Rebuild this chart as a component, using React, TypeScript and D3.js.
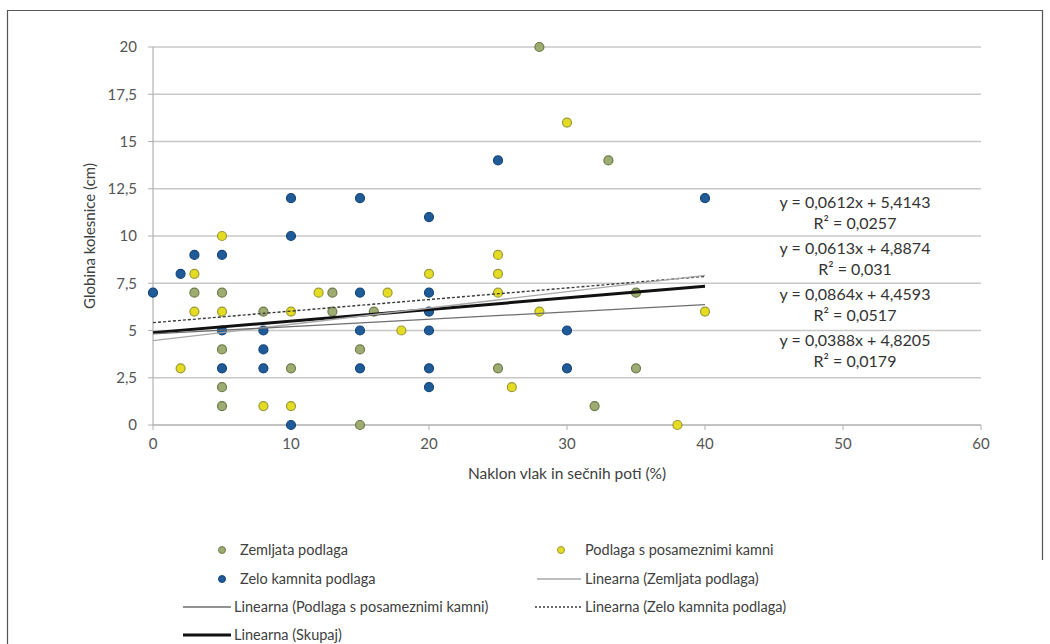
import React from 'react';
import { scaleLinear, line } from 'd3';

// Zemljata podlaga
const zemljataX = [3, 5, 8, 13, 13, 16, 5, 15, 10, 5, 5, 15, 28, 33, 35, 25, 35, 32];
const zemljataY = [7, 7, 6, 7, 6, 6, 4, 4, 3, 2, 1, 0, 20, 14, 7, 3, 3, 1];

// Podlaga s posameznimi kamni
const podlagaX = [5, 3, 20, 12, 17, 3, 5, 10, 18, 2, 8, 10, 30, 25, 25, 25, 28, 40, 26, 38];
const podlagaY = [10, 8, 8, 7, 7, 6, 6, 6, 5, 3, 1, 1, 16, 9, 8, 7, 6, 6, 2, 0];

// Zelo kamnita podlaga
const zeloX = [10, 15, 20, 10, 3, 5, 2, 0, 15, 20, 20, 5, 8, 15, 20, 8, 5, 8, 15, 20, 20, 10, 25, 40, 30, 30];
const zeloY = [12, 12, 11, 10, 9, 9, 8, 7, 7, 7, 6, 5, 5, 5, 5, 4, 3, 3, 3, 3, 2, 0, 14, 12, 5, 3];

const yTicks = [0, 2.5, 5, 7.5, 10, 12.5, 15, 17.5, 20];
const xTicks = [0, 10, 20, 30, 40, 50, 60];

// trend lines: slope, intercept, r2
const trendNames = ['Zelo kamnita podlaga', 'Skupaj', 'Zemljata podlaga', 'Podlaga s posameznimi kamni'];
const trendSlopes = [0.0612, 0.0613, 0.0864, 0.0388];
const trendIntercepts = [5.4143, 4.8874, 4.4593, 4.8205];
const trendR2 = ['0,0257', '0,031', '0,0517', '0,0179'];

const fmt = (v: number) => String(v).replace('.', ',');

const font = 'Lato, "Open Sans", sans-serif';

const seriesStyle: Record<string, { fill: string; stroke: string }> = {
  zemljata: { fill: '#9eac72', stroke: '#6e7a4a' },
  podlaga: { fill: '#e4dc22', stroke: '#9c9a38' },
  zelo: { fill: '#1f5b98', stroke: '#174778' },
};

const trendStyle: Record<string, { stroke: string; width: number; dash?: string }> = {
  'Zemljata podlaga': { stroke: '#a8a8a8', width: 1.3 },
  'Podlaga s posameznimi kamni': { stroke: '#6e6e6e', width: 1.3 },
  'Zelo kamnita podlaga': { stroke: '#3a3a3a', width: 1.4, dash: '3,2' },
  Skupaj: { stroke: '#111', width: 3 },
};

export default function App() {
  const x = scaleLinear().domain([0, 60]).range([153, 981]);
  const y = scaleLinear().domain([0, 20]).range([425, 47]);
  const trendLine = line<number[]>()
    .x((d) => x(d[0]))
    .y((d) => y(d[1]));

  const series = [
    { key: 'zemljata', xs: zemljataX, ys: zemljataY },
    { key: 'podlaga', xs: podlagaX, ys: podlagaY },
    { key: 'zelo', xs: zeloX, ys: zeloY },
  ];

  return (
    <svg
      width={1050}
      height={644}
      style={{ position: 'absolute', left: 0, top: 0, background: '#fff' }}
      fontFamily={font}
    >
      {/* frame */}
      <path d="M7.5,660 V10.5 H1042.5 V560" fill="none" stroke="#555" strokeWidth={1.2} />

      {/* grid */}
      {yTicks.map((t) => (
        <g key={t}>
          <line x1={x(0)} x2={x(60)} y1={y(t)} y2={y(t)} stroke="#c8c8c8" strokeWidth={1.6} />
          <line x1={x(0) - 5} x2={x(0)} y1={y(t)} y2={y(t)} stroke="#b0b0b0" strokeWidth={1} />
          <text x={137} y={y(t)} dy="0.35em" textAnchor="end" fontSize={15} fill="#555">
            {fmt(t)}
          </text>
        </g>
      ))}
      <line x1={x(0)} x2={x(0)} y1={y(20)} y2={y(0)} stroke="#b0b0b0" strokeWidth={1.2} />
      <line x1={x(0)} x2={x(60)} y1={y(0)} y2={y(0)} stroke="#b0b0b0" strokeWidth={1.2} />
      {xTicks.map((t) => (
        <g key={t}>
          <line x1={x(t)} x2={x(t)} y1={y(0)} y2={y(0) + 5} stroke="#b0b0b0" strokeWidth={1} />
          <text x={x(t)} y={449} textAnchor="middle" fontSize={15} fill="#555">
            {t}
          </text>
        </g>
      ))}

      {/* axis titles */}
      <text x={x(30)} y={479} textAnchor="middle" fontSize={15.5} fill="#404040">
        Naklon vlak in sečnih poti (%)
      </text>
      <text
        transform={`translate(95,${y(10)}) rotate(-90)`}
        textAnchor="middle"
        fontSize={15}
        fill="#404040"
      >
        Globina kolesnice (cm)
      </text>

      {/* points */}
      {series.map((s) =>
        s.xs.map((xv, i) => (
          <circle
            key={s.key + i}
            cx={x(xv)}
            cy={y(s.ys[i])}
            r={4.5}
            fill={seriesStyle[s.key].fill}
            stroke={seriesStyle[s.key].stroke}
            strokeWidth={1.2}
          />
        ))
      )}

      {/* trend lines */}
      {trendNames.map((n, i) => {
        const st = trendStyle[n];
        const pts = [0, 40].map((xv) => [xv, trendSlopes[i] * xv + trendIntercepts[i]]);
        return (
          <path
            key={n}
            d={trendLine(pts) || ''}
            fill="none"
            stroke={st.stroke}
            strokeWidth={st.width}
            strokeDasharray={st.dash}
          />
        );
      })}

      {/* equations */}
      {trendNames.map((n, i) => (
        <text key={n} textAnchor="middle" fontSize={16} fill="#333">
          <tspan x={855} y={208 + i * 46}>
            {`y = ${fmt(trendSlopes[i])}x + ${fmt(trendIntercepts[i])}`}
          </tspan>
          <tspan x={855} y={229 + i * 46}>
            {`R² = ${trendR2[i]}`}
          </tspan>
        </text>
      ))}

      {/* legend */}
      <g fontSize={14.5} fill="#404040">
        <circle cx={222} cy={550} r={3.5} fill={seriesStyle.zemljata.fill} stroke={seriesStyle.zemljata.stroke} />
        <text x={240} y={550} dy="0.35em">Zemljata podlaga</text>
        <circle cx={561} cy={550} r={3.5} fill={seriesStyle.podlaga.fill} stroke={seriesStyle.podlaga.stroke} />
        <text x={585} y={550} dy="0.35em">Podlaga s posameznimi kamni</text>

        <circle cx={222} cy={579} r={3.5} fill={seriesStyle.zelo.fill} stroke={seriesStyle.zelo.stroke} />
        <text x={240} y={579} dy="0.35em">Zelo kamnita podlaga</text>
        <path d="M537,579 H581" stroke={trendStyle['Zemljata podlaga'].stroke} strokeWidth={1.3} />
        <text x={585} y={579} dy="0.35em">Linearna (Zemljata podlaga)</text>

        <path d="M183,607 H231" stroke={trendStyle['Podlaga s posameznimi kamni'].stroke} strokeWidth={1.3} />
        <text x={234} y={607} dy="0.35em">Linearna (Podlaga s posameznimi kamni)</text>
        <path d="M535,607 H581" stroke={trendStyle['Zelo kamnita podlaga'].stroke} strokeWidth={1.3} strokeDasharray="2,2" />
        <text x={585} y={607} dy="0.35em">Linearna (Zelo kamnita podlaga)</text>

        <path d="M183,635 H231" stroke={trendStyle.Skupaj.stroke} strokeWidth={3} />
        <text x={234} y={635} dy="0.35em">Linearna (Skupaj)</text>
      </g>
    </svg>
  );
}
